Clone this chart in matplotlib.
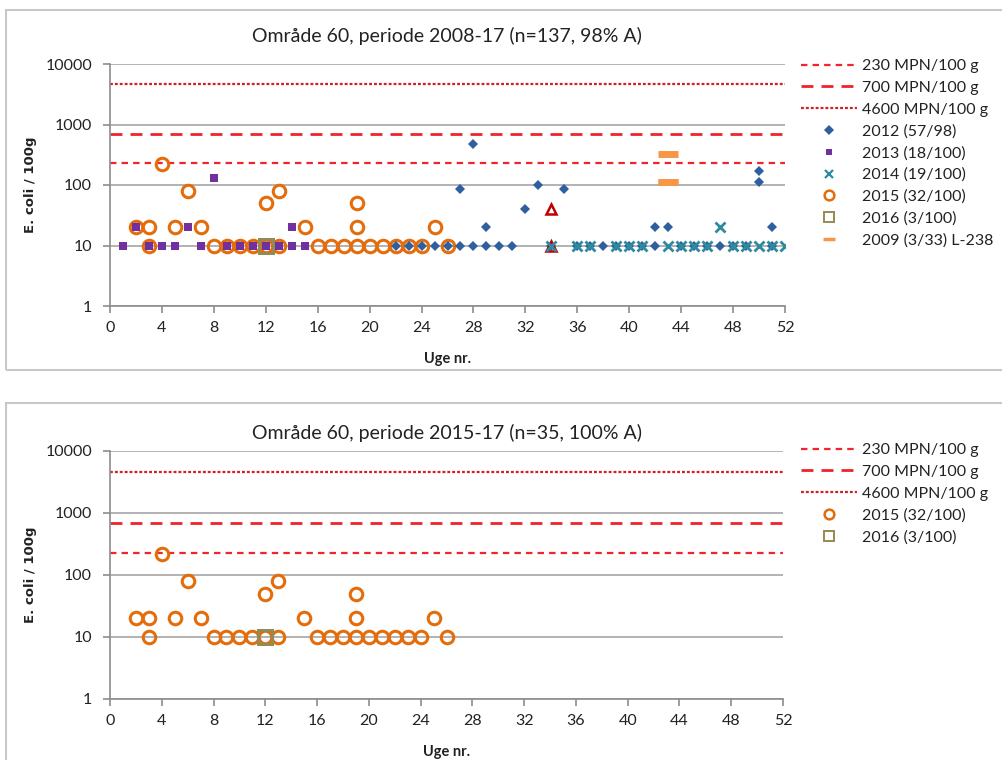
import matplotlib
matplotlib.use("Agg")
import matplotlib.pyplot as plt
from matplotlib.lines import Line2D
from matplotlib.patches import Rectangle
from matplotlib.ticker import FixedLocator, FuncFormatter, NullLocator

plt.rcParams["font.family"] = ["Lato", "DejaVu Sans"]

# threshold lines
limit_values = [230, 700, 4600]
limit_labels = ["230 MPN/100 g", "700 MPN/100 g", "4600 MPN/100 g"]

# 2012 (57/98)
weeks_2012 = [22, 23, 24, 25, 26, 27, 28, 29, 30, 31, 34, 36, 37, 38, 39, 40, 41, 42, 44, 45, 46, 47, 48, 49, 51,
              27, 28, 29, 32, 33, 35, 42, 43, 50, 50, 51]
vals_2012 = [10, 10, 10, 10, 10, 10, 10, 10, 10, 10, 10, 10, 10, 10, 10, 10, 10, 10, 10, 10, 10, 10, 10, 10, 10,
             85, 480, 20, 40, 100, 85, 20, 20, 170, 110, 20]

# 2013 (18/100)
weeks_2013 = [1, 2, 3, 4, 5, 6, 7, 8, 9, 10, 11, 12, 13, 14, 14, 15]
vals_2013 = [10, 20, 10, 10, 10, 20, 10, 130, 10, 10, 10, 10, 10, 20, 10, 10]

# 2014 (19/100)
weeks_2014 = [34, 36, 37, 39, 40, 41, 43, 44, 45, 46, 47, 48, 49, 50, 51, 52]
vals_2014 = [10, 10, 10, 10, 10, 10, 10, 10, 10, 10, 20, 10, 10, 10, 10, 10]

# 2015 (32/100)
weeks_2015 = [2, 3, 3, 4, 5, 6, 7, 8, 9, 10, 11, 12, 12, 13, 13, 15, 16, 17, 18, 19, 19, 19, 20, 21, 22, 23, 24, 25, 26]
vals_2015 = [20, 20, 10, 220, 20, 80, 20, 10, 10, 10, 10, 50, 10, 80, 10, 20, 10, 10, 10, 10, 20, 50, 10, 10, 10, 10, 10, 20, 10]

# 2016 (3/100)
weeks_2016 = [12, 12, 12]
vals_2016 = [10, 10, 10]

# 2009 (3/33) L-238
weeks_2009 = [43, 43, 43]
vals_2009 = [330, 110, 110]

# unlabelled red triangles
weeks_tri = [34, 34]
vals_tri = [40, 10]

x_ticks = list(range(0, 53, 4))
y_ticks = [1, 10, 100, 1000, 10000]

RED = "#F0242C"
RED_DARK = "#D0202A"
C2012 = "#2F5F9E"
C2013 = "#7030A0"
C2014 = "#2E8A9E"
C2015 = "#E46C0A"
C2016 = "#948A54"
C2009 = "#F79646"

limit_styles = [
    dict(color=RED, lw=1.6, linestyle=(0, (2.9, 2.3))),
    dict(color=RED, lw=2.0, linestyle=(0, (4.3, 2.9))),
    dict(color=RED_DARK, lw=1.6, linestyle=(0, (1.3, 0.9))),
]

series = {
    "2012": dict(marker="D", ms=5.5, color=C2012, mfc=C2012, mec=C2012, ls="none", mew=0, zorder=4),
    "2013": dict(marker="s", ms=6, color=C2013, mfc=C2013, mec=C2013, ls="none", mew=0, zorder=4),
    "2014": dict(marker="x", ms=7, color=C2014, mec=C2014, ls="none", mew=2, zorder=5),
    "2015": dict(marker="o", ms=9, color=C2015, mfc="none", mec=C2015, ls="none", mew=2.2, zorder=3),
    "2016": dict(marker="s", ms=10.5, color=C2016, mfc="none", mec=C2016, ls="none", mew=2, zorder=6),
    "2009": dict(marker="_", ms=14, color=C2009, mec=C2009, ls="none", mew=5, zorder=4),
}
legend_sizes = {"2012": (5, None), "2013": (5, None), "2014": (6, 1.6), "2015": (7, 1.8),
                "2016": (7, 1.4), "2009": (8, 2.5)}
tri_style = dict(marker="^", ms=7, mfc="none", mec="#C00000", ls="none", mew=1.8, zorder=4)


def style_axes(ax):
    ax.set_yscale("log")
    ax.set_ylim(1, 10000)
    ax.set_xlim(0, 52)
    ax.xaxis.set_major_locator(FixedLocator(x_ticks))
    ax.yaxis.set_major_locator(FixedLocator(y_ticks))
    ax.yaxis.set_minor_locator(NullLocator())
    ax.yaxis.set_major_formatter(FuncFormatter(lambda v, p: f"{v:g}"))
    ax.grid(axis="y", color="#A6A6A6", lw=1.2, zorder=0)
    for s in ["top", "right"]:
        ax.spines[s].set_visible(False)
    for s in ["left", "bottom"]:
        ax.spines[s].set_color("#8C8C8C")
        ax.spines[s].set_linewidth(1.2)
    ax.tick_params(axis="both", colors="#8C8C8C", labelcolor="#222222", labelsize=11.5,
                   length=5, width=1.2, direction="out")
    ax.tick_params(axis="x", pad=6)
    ax.tick_params(axis="y", pad=8)
    ax.set_xlabel("Uge nr.", fontsize=10.5, fontweight="bold", labelpad=12, color="#222222")
    ax.set_ylabel("E. coli / 100g", fontsize=9.5, fontweight="bold", family="DejaVu Sans",
                  labelpad=6, color="#222222")
    for v, st in zip(limit_values, limit_styles):
        ax.axhline(v, zorder=2, **st)


def legend_handles(keys, labels):
    handles = [Line2D([], [], **st) for st in limit_styles]
    for k in keys:
        st = dict(series[k])
        ms, mew = legend_sizes[k]
        st["ms"] = ms
        if mew is not None:
            st["mew"] = mew
        handles.append(Line2D([], [], **st))
    return handles, limit_labels + labels


def add_legend(handles, labels, top_px):
    fig.legend(handles, labels, loc="upper left", bbox_to_anchor=(801 / 1003, 1 - top_px / 760),
               frameon=False, fontsize=11.5, handlelength=3.5, handletextpad=0.3, labelspacing=0.47,
               borderpad=0, borderaxespad=0, labelcolor="#222222")


fig = plt.figure(figsize=(10.03, 7.60), dpi=100)

# chart frames
fig.patches.append(Rectangle((6 / 1003, 1 - 370 / 760), 1.0, 360 / 760, transform=fig.transFigure,
                             fill=False, edgecolor="#C8C8C8", lw=1.5))
fig.patches.append(Rectangle((6 / 1003, -0.1), 1.0, 1 - 403 / 760 + 0.1, transform=fig.transFigure,
                             fill=False, edgecolor="#C8C8C8", lw=1.5))

# top chart
ax1 = fig.add_axes([110 / 1003, 1 - 306 / 760, 675 / 1003, 242 / 760])
style_axes(ax1)
fig.text(447 / 1003, 1 - 36 / 760, "Område 60, periode 2008-17 (n=137, 98% A)", ha="center", va="center",
         fontsize=14, color="#222222")
ax1.plot(weeks_2015, vals_2015, **series["2015"])
ax1.plot(weeks_2012, vals_2012, **series["2012"])
ax1.plot(weeks_2013, vals_2013, **series["2013"])
ax1.plot(weeks_tri, vals_tri, **tri_style)
ax1.plot(weeks_2014, vals_2014, **series["2014"])
ax1.plot(weeks_2016, vals_2016, **series["2016"])
ax1.plot(weeks_2009, vals_2009, **series["2009"])

h, l = legend_handles(["2012", "2013", "2014", "2015", "2016", "2009"],
                      ["2012 (57/98)", "2013 (18/100)", "2014 (19/100)", "2015 (32/100)",
                       "2016 (3/100)", "2009 (3/33) L-238"])
add_legend(h, l, 59)

# bottom chart
ax2 = fig.add_axes([110 / 1003, 1 - 699 / 760, 673 / 1003, 248 / 760])
style_axes(ax2)
fig.text(447 / 1003, 1 - 433 / 760, "Område 60, periode 2015-17 (n=35, 100% A)", ha="center", va="center",
         fontsize=14, color="#222222")
ax2.plot(weeks_2015, vals_2015, **series["2015"])
ax2.plot(weeks_2016, vals_2016, **series["2016"])

h, l = legend_handles(["2015", "2016"], ["2015 (32/100)", "2016 (3/100)"])
add_legend(h, l, 443)

fig.savefig("out.png", dpi=100)
